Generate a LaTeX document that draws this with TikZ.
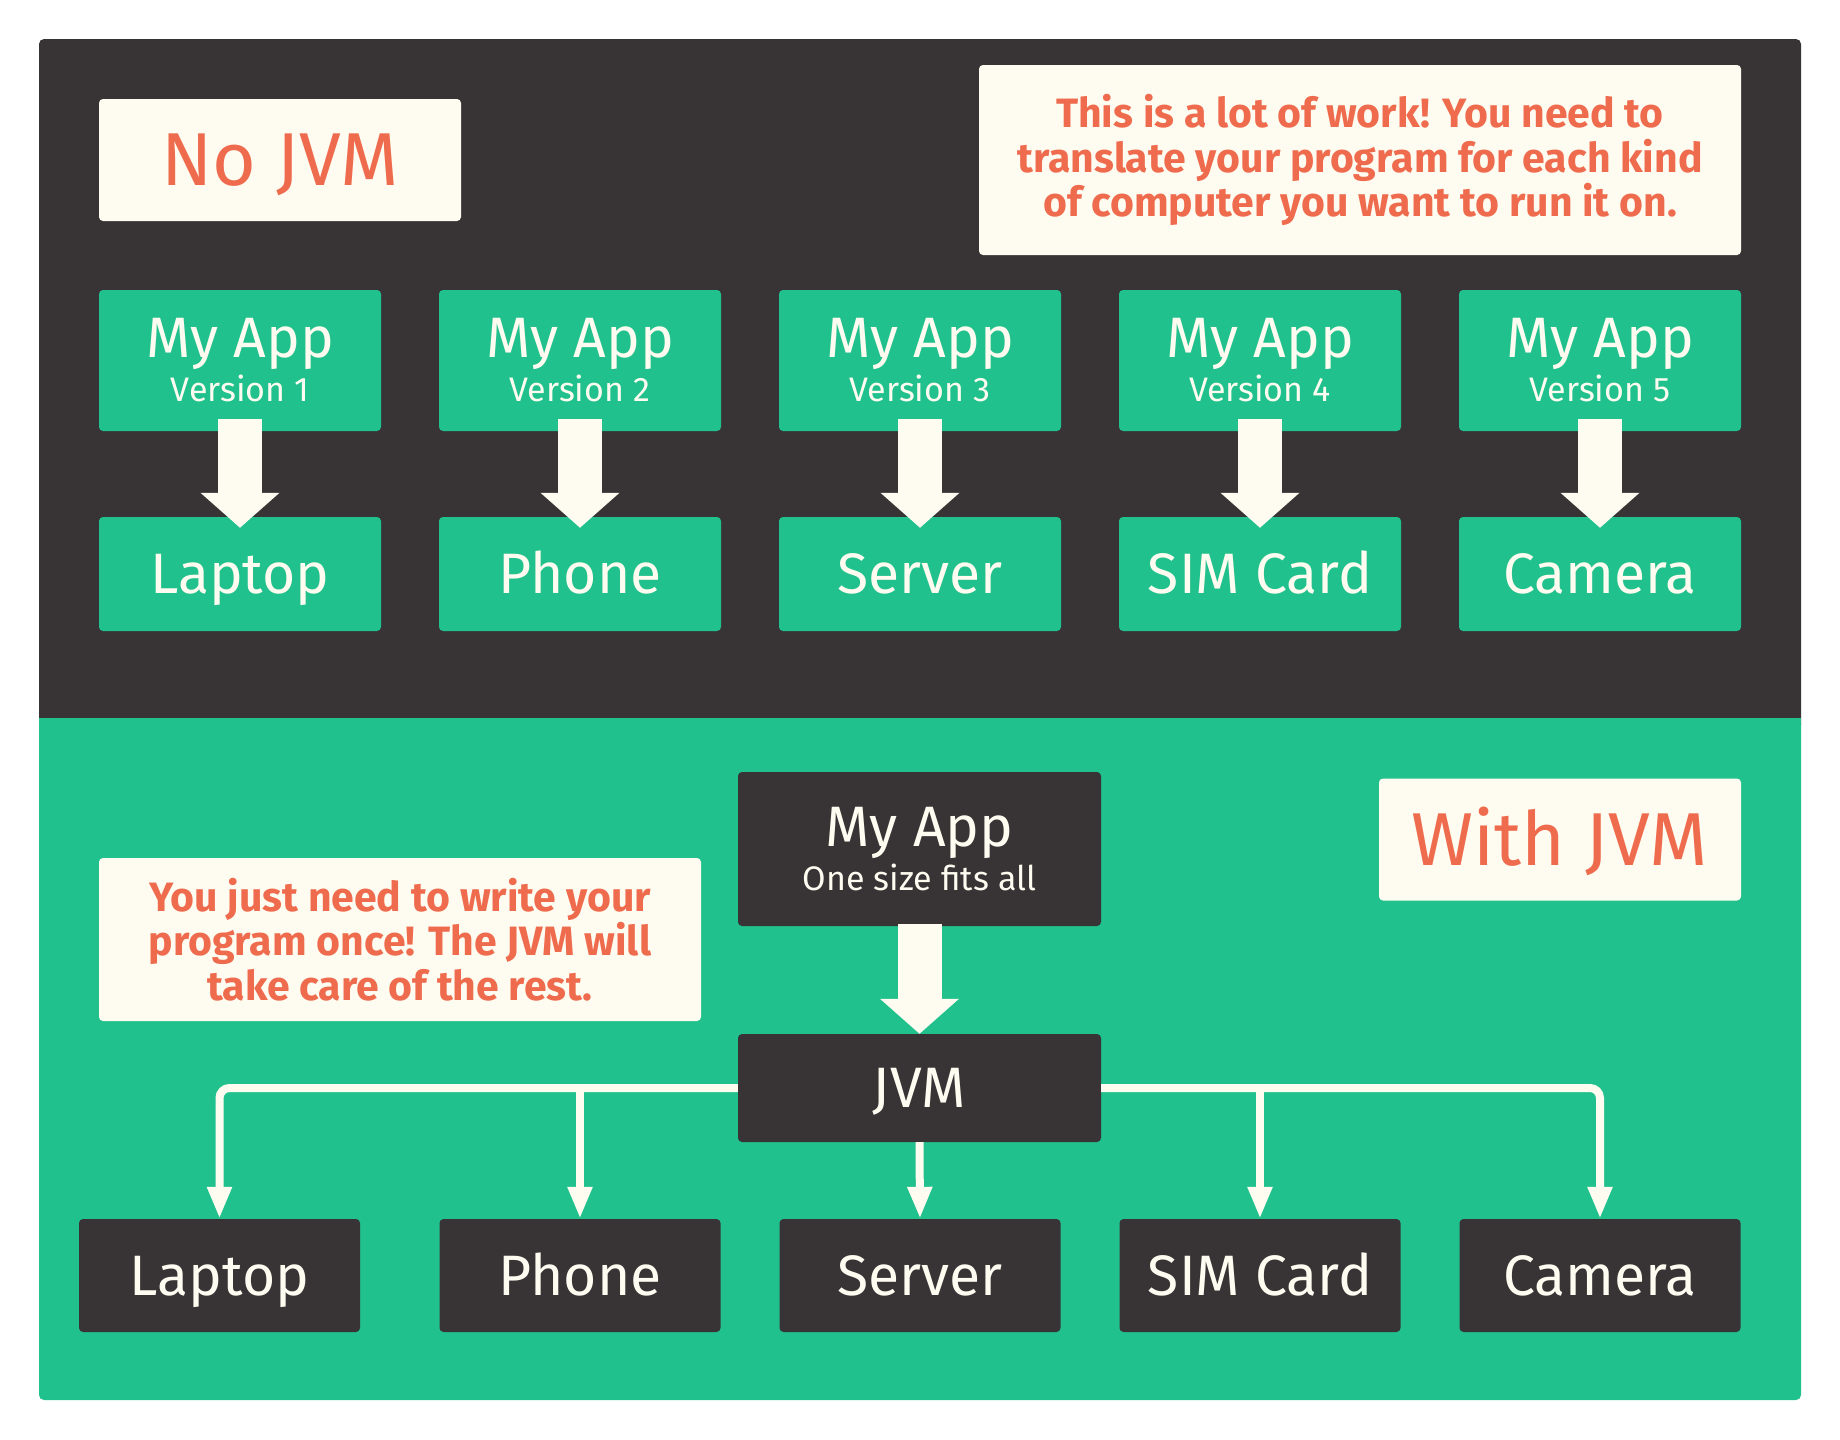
\documentclass[tikz,border=0pt]{standalone}
\usepackage{fontspec}
\setmainfont{Fira Sans}
\usepackage{xcolor}
\usepackage{tikz}
\usetikzlibrary{arrows.meta}
\definecolor{panelgray}{HTML}{383435}
\definecolor{jvmgreen}{HTML}{21C18D}
\definecolor{cream}{HTML}{FEFCF1}
\definecolor{notered}{HTML}{EF6B4D}
\newcommand{\subline}[1]{{\fontsize{34}{34}\selectfont #1}}
\tikzstyle{appbox} = [fill=jvmgreen, text=cream, rounded corners=4pt, inner sep=0pt, align=center,
  minimum width=282pt, font=\fontsize{57}{44}\selectfont]
\tikzstyle{devbox} = [appbox, minimum height=114pt, text height=39pt, text depth=0pt]
\tikzstyle{darkbox} = [appbox, fill=panelgray]
\tikzstyle{outbox} = [devbox, fill=panelgray, minimum width=281pt, minimum height=113pt]
\tikzstyle{titlebox} = [fill=cream, text=notered, rounded corners=4pt, minimum width=362pt,
  minimum height=122pt, text height=51pt, text depth=0pt, font=\fontsize{75}{75}\selectfont]
\tikzstyle{notebox} = [fill=cream, text=notered, rounded corners=4pt, align=center, inner sep=0pt,
  font=\fontsize{41}{44.5}\selectfont\bfseries]
\tikzstyle{fatarrow} = [draw=cream, line width=44pt, -{Triangle[width=77pt,length=35pt]}]
\tikzstyle{thinarrow} = [draw=cream, line width=8pt, -{Triangle[width=23pt,length=32pt]}]

\begin{document}
\begin{tikzpicture}[x=1pt, y=-1pt]
\useasboundingbox (0,0) rectangle (1840,1440);
\fill[white] (0,0) rectangle (1840,1440);
\fill[panelgray, rounded corners=5pt] (39,39) rectangle (1801,730);
\fill[jvmgreen, rounded corners=5pt] (39,718) rectangle (1801,1400);
\fill[jvmgreen] (39,718) rectangle (1801,740);

% without the JVM
\node[titlebox] (nojvm) at (280,160) {No JVM};
\node[notebox, minimum width=762pt, minimum height=190pt] (topnote) at (1360,160)
  {This is a lot of work! You need to\\translate your program for each kind\\of computer you want to run it on.};
\node[appbox, minimum height=141pt] (app1) at (240,360.5) {My App\\\subline{Version 1}};
\node[appbox, minimum height=141pt] (app2) at (580,360.5) {My App\\\subline{Version 2}};
\node[appbox, minimum height=141pt] (app3) at (920,360.5) {My App\\\subline{Version 3}};
\node[appbox, minimum height=141pt] (app4) at (1260,360.5) {My App\\\subline{Version 4}};
\node[appbox, minimum height=141pt] (app5) at (1600,360.5) {My App\\\subline{Version 5}};
\node[devbox] (dev1) at (240,574) {Laptop};
\node[devbox] (dev2) at (580,574) {Phone};
\node[devbox] (dev3) at (920,574) {Server};
\node[devbox] (dev4) at (1260,574) {SIM Card};
\node[devbox] (dev5) at (1600,574) {Camera};
\draw[fatarrow] ([yshift=12pt]app1.south) -- ([yshift=-11pt]dev1.north);
\draw[fatarrow] ([yshift=12pt]app2.south) -- ([yshift=-11pt]dev2.north);
\draw[fatarrow] ([yshift=12pt]app3.south) -- ([yshift=-11pt]dev3.north);
\draw[fatarrow] ([yshift=12pt]app4.south) -- ([yshift=-11pt]dev4.north);
\draw[fatarrow] ([yshift=12pt]app5.south) -- ([yshift=-11pt]dev5.north);

% with the JVM
\node[titlebox] (withjvm) at (1560,839.5) {With JVM};
\node[notebox, minimum width=602pt, minimum height=163pt] (botnote) at (400,939.5)
  {You just need to write your\\program once! The JVM will\\take care of the rest.};
\node[darkbox, minimum width=363pt, minimum height=154pt] (jvmapp) at (919.5,849) {My App\\\subline{One size fits all}};
\node[darkbox, minimum width=363pt, minimum height=108pt, text height=39pt, text depth=0pt] (jvm) at (919.5,1088) {JVM};
\node[outbox] (out1) at (219.5,1275.5) {Laptop};
\node[outbox] (out2) at (580,1275.5) {Phone};
\node[outbox] (out3) at (920,1275.5) {Server};
\node[outbox] (out4) at (1260,1275.5) {SIM Card};
\node[outbox] (out5) at (1600,1275.5) {Camera};
\draw[fatarrow] ([yshift=2pt]jvmapp.south) -- (jvm.north);
\draw[thinarrow, rounded corners=10pt] (jvm.west) -| (out1.north);
\draw[thinarrow] (jvm.west) -| (out2.north);
\draw[thinarrow] (jvm.south) -- (out3.north);
\draw[thinarrow] (jvm.east) -| (out4.north);
\draw[thinarrow, rounded corners=10pt] (jvm.east) -| (out5.north);
\end{tikzpicture}
\end{document}
